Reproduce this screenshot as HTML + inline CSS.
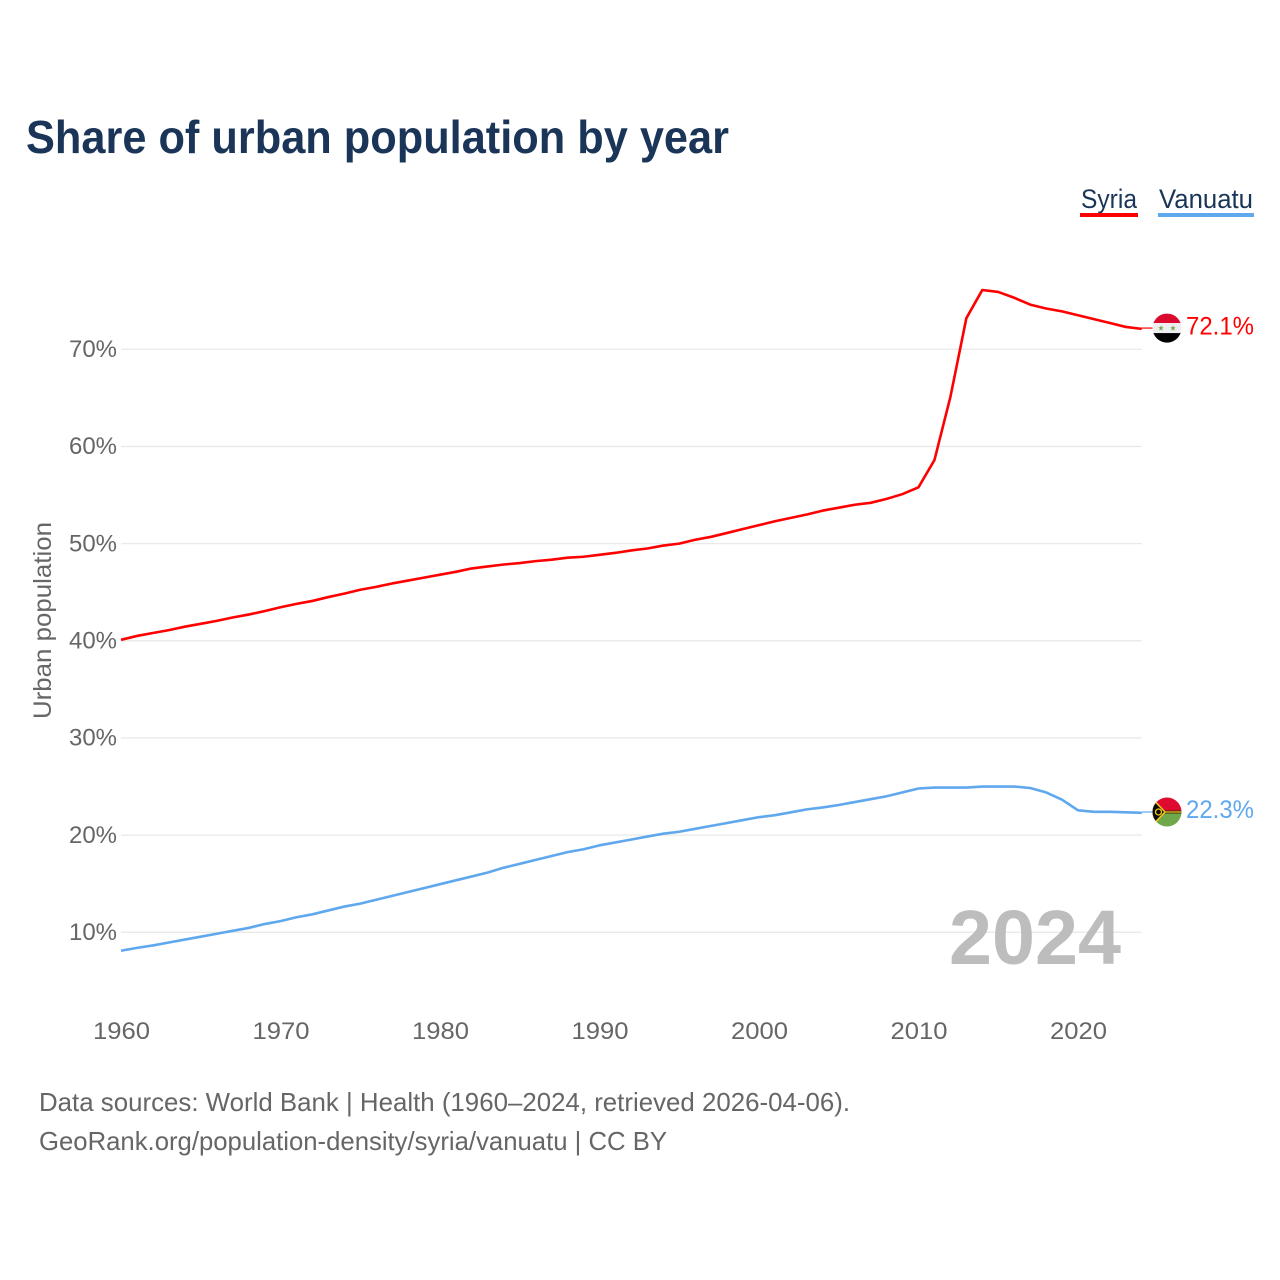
<!DOCTYPE html>
<html lang="en">
<head>
<meta charset="utf-8">
<title>Share of urban population by year</title>
<style>
html,body{margin:0;padding:0;background:#fff;width:1280px;height:1280px;overflow:hidden}
svg{display:block}
text{font-family:"Liberation Sans",sans-serif}
</style>
</head>
<body>
<svg id="chart" width="1280" height="1280" viewBox="0 0 1280 1280" xmlns="http://www.w3.org/2000/svg">
  <defs>
    <clipPath id="clip-syria"><circle cx="0" cy="0" r="14.5"/></clipPath>
    <clipPath id="clip-vanuatu"><circle cx="0" cy="0" r="14.5"/></clipPath>
  </defs>
  <text x="26" y="153" font-size="46" font-weight="700" fill="#1a3557" textLength="703" lengthAdjust="spacingAndGlyphs">Share of urban population by year</text>

  <g>
    <g>
      <text x="1081" y="208" font-size="27" fill="#1a3557" textLength="56" lengthAdjust="spacingAndGlyphs">Syria</text>
      <rect x="1080" y="213" width="58" height="4" fill="#ff0000"/>
    </g>
    <g>
      <text x="1159" y="208" font-size="27" fill="#1a3557" textLength="94" lengthAdjust="spacingAndGlyphs">Vanuatu</text>
      <rect x="1158" y="213" width="96" height="4" fill="#5fa8ee"/>
    </g>
  </g>

  <g id="grid"></g>
  <g id="yticks"></g>
  <g id="xticks"></g>
  <text transform="translate(51,620.5) rotate(-90)" text-anchor="middle" font-size="25" fill="#666666" textLength="197" lengthAdjust="spacingAndGlyphs">Urban population</text>
  <text x="949" y="964" font-size="77" font-weight="700" fill="#bdbdbd" textLength="172" lengthAdjust="spacingAndGlyphs">2024</text>
  <g id="series"></g>

  <g id="flag-syria">
    <g clip-path="url(#clip-syria)">
      <rect x="-15" y="-15" width="30" height="10" fill="#da0b2f"/>
      <rect x="-15" y="-5" width="30" height="10" fill="#eeeeee"/>
      <rect x="-15" y="5" width="30" height="10" fill="#000000"/>
      <polygon transform="translate(-6,0) scale(0.9)" points="0,-3 0.9,-0.9 3,-0.9 1.3,0.5 1.9,3 0,1.5 -1.9,3 -1.3,0.5 -3,-0.9 -0.9,-0.9" fill="#6fa84f"/>
      <polygon transform="translate(6,0) scale(0.9)" points="0,-3 0.9,-0.9 3,-0.9 1.3,0.5 1.9,3 0,1.5 -1.9,3 -1.3,0.5 -3,-0.9 -0.9,-0.9" fill="#6fa84f"/>
    </g>
  </g>
  <g id="flag-vanuatu">
    <g clip-path="url(#clip-vanuatu)">
      <rect x="-15" y="-15" width="30" height="15" fill="#de0a2f"/>
      <rect x="-15" y="0" width="30" height="15" fill="#6fa84a"/>
      <rect x="-2" y="-1.5" width="17" height="3" fill="#3a2a10"/>
      <rect x="-2" y="-0.6" width="17" height="1.2" fill="#f5c518"/>
      <polygon points="-15,-15 -15,15 -1,0" fill="#f5c518"/>
      <polygon points="-15,-12.5 -15,12.5 -3,0" fill="#0b0b0b"/>
      <circle cx="-8.5" cy="0" r="3" fill="none" stroke="#f5c518" stroke-width="1.3"/>
    </g>
  </g>
  <text id="value-syria" x="1186" font-size="25" fill="#ff0000" textLength="68" lengthAdjust="spacingAndGlyphs"></text>
  <text id="value-vanuatu" x="1186" font-size="25" fill="#5fa8ee" textLength="68" lengthAdjust="spacingAndGlyphs"></text>

  <g>
    <text x="39" y="1111" font-size="26" fill="#666666" textLength="811" lengthAdjust="spacingAndGlyphs">Data sources: World Bank | Health (1960–2024, retrieved 2026-04-06).</text>
    <text x="39" y="1150" font-size="26" fill="#666666" textLength="628" lengthAdjust="spacingAndGlyphs">GeoRank.org/population-density/syria/vanuatu | CC BY</text>
  </g>
</svg>
<script>
const firstYear = 1960;
const syriaValues = [40.1,40.5,40.8,41.1,41.45,41.75,42.05,42.4,42.7,43.05,43.45,43.8,44.1,44.5,44.85,45.25,45.55,45.9,46.2,46.5,46.8,47.1,47.45,47.65,47.85,48.0,48.2,48.35,48.55,48.65,48.85,49.05,49.3,49.5,49.8,50.0,50.4,50.7,51.1,51.5,51.9,52.3,52.65,53.0,53.4,53.7,54.0,54.2,54.6,55.1,55.8,58.6,65.1,73.2,76.1,75.9,75.3,74.6,74.2,73.9,73.5,73.1,72.7,72.3,72.1];
const vanuatuValues = [8.1,8.4,8.65,8.95,9.25,9.55,9.85,10.15,10.45,10.85,11.15,11.55,11.85,12.25,12.65,12.95,13.35,13.75,14.15,14.55,14.95,15.35,15.75,16.15,16.65,17.05,17.45,17.85,18.25,18.55,18.95,19.25,19.55,19.85,20.15,20.35,20.65,20.95,21.25,21.55,21.85,22.05,22.35,22.65,22.85,23.1,23.4,23.7,24.0,24.4,24.8,24.9,24.9,24.9,25.0,25.0,25.0,24.85,24.4,23.65,22.55,22.4,22.4,22.35,22.3];
const yTickValues = [10,20,30,40,50,60,70];
const xTickValues = [1960,1970,1980,1990,2000,2010,2020];

const NS = 'http://www.w3.org/2000/svg';
function xScale(year){ return 121 + (year - 1960) * 15.95; }
function yScale(v){ return 932.3 - (v - 10) * 9.717; }
function make(tag, attrs, parent){
  const el = document.createElementNS(NS, tag);
  for (const k in attrs) el.setAttribute(k, attrs[k]);
  parent.appendChild(el);
  return el;
}
const grid = document.getElementById('grid');
const yticks = document.getElementById('yticks');
const xticks = document.getElementById('xticks');
const seriesLayer = document.getElementById('series');
const axisRight = xScale(2024);

yTickValues.forEach(function(v){
  const line = make('line', {x1: 121, x2: axisRight, y1: yScale(v), y2: yScale(v), stroke: '#e9e9e9', 'stroke-width': 1.3}, grid);
  
  
  const t = make('text', {x: 117, y: yScale(v) + 7.7, 'text-anchor': 'end', 'font-size': 24, fill: '#666666', textLength: 48, lengthAdjust: 'spacingAndGlyphs'}, yticks);
  t.textContent = v + '%';
  
  
});

xTickValues.forEach(function(y){
  const t = make('text', {x: xScale(y) + 0.5, y: 1039, 'text-anchor': 'middle', 'font-size': 24, fill: '#666666', textLength: 57, lengthAdjust: 'spacingAndGlyphs'}, xticks);
  t.textContent = String(y);
  
  
});

function drawSeries(values, color, key){
  const d = values.map(function(v, i){
    return (i ? 'L' : 'M') + xScale(firstYear + i).toFixed(2) + ' ' + yScale(v).toFixed(2);
  }).join(' ');
  const path = make('path', {d: d, fill: 'none', stroke: color, 'stroke-width': 2.6, 'stroke-linejoin': 'round'}, seriesLayer);
  
  
  const last = values[values.length - 1];
  const lastY = yScale(last) - 0.8;
  const lastX = xScale(firstYear + values.length - 1);
  const conn = make('line', {x1: lastX, x2: lastX + 12, y1: lastY, y2: lastY, stroke: color, 'stroke-width': 1.2}, seriesLayer);
  
  
  document.getElementById('flag-' + key).setAttribute('transform', 'translate(1167,' + lastY.toFixed(2) + ')');
  const label = document.getElementById('value-' + key);
  label.setAttribute('y', (lastY + 6.2).toFixed(2));
  label.textContent = last.toFixed(1) + '%';
}
drawSeries(syriaValues, '#ff0000', 'syria');
drawSeries(vanuatuValues, '#5fa8ee', 'vanuatu');
</script>
</body>
</html>
